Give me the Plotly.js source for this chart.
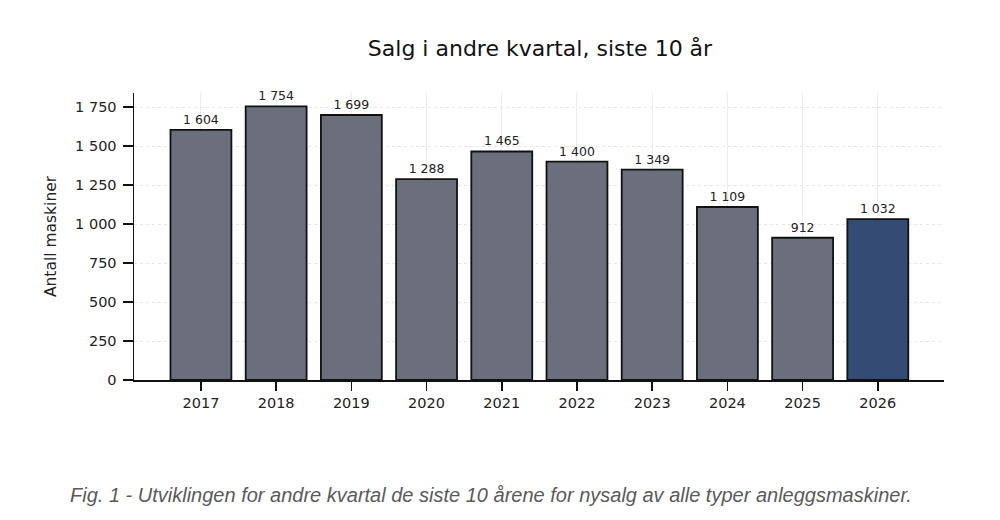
<!DOCTYPE html>
<html>
<head>
<meta charset="utf-8">
<script src="https://cdn.plot.ly/plotly-3.0.1.min.js"></script>
<style>
  body { margin: 0; background: #fff; }
  #myDiv { width: 1000px; height: 520px; }
</style>
</head>
<body>
<div id="myDiv"></div>
<script>
var years = ['2017', '2018', '2019', '2020', '2021', '2022', '2023', '2024', '2025', '2026'];
var sales = [1604, 1754, 1699, 1288, 1465, 1400, 1349, 1109, 912, 1032];
var barColors = ['#6b6f7b', '#6b6f7b', '#6b6f7b', '#6b6f7b', '#6b6f7b',
                 '#6b6f7b', '#6b6f7b', '#6b6f7b', '#6b6f7b', '#344c74'];
var yTicks = [0, 250, 500, 750, 1000, 1250, 1500, 1750];

var trace = {
  x: years,
  y: sales,
  type: 'bar',
  marker: {color: barColors, line: {color: '#111', width: 1.8}},
  text: sales,
  texttemplate: '%{y:,}',
  textposition: 'outside',
  cliponaxis: false,
  textfont: {family: 'DejaVu Sans', size: 12.5, color: '#222'},
  hoverinfo: 'none'
};

var layout = {
  width: 1000,
  height: 520,
  separators: ', ',
  paper_bgcolor: '#fff',
  plot_bgcolor: '#fff',
  font: {family: 'DejaVu Sans', color: '#222'},
  margin: {l: 134, r: 56, t: 93, b: 140},
  bargap: 0.19,
  showlegend: false,
  title: {
    text: 'Salg i andre kvartal, siste 10 år',
    font: {family: 'DejaVu Sans', size: 22, color: '#111'},
    x: 0.54, xanchor: 'center', y: 0.908, yanchor: 'middle'
  },
  xaxis: {
    type: 'category',
    range: [-0.89, 9.88],
    showline: true, linecolor: '#111', linewidth: 1.5,
    ticks: 'outside', ticklen: 9, tickwidth: 1.5, tickcolor: '#111',
    tickfont: {size: 14.5, color: '#222'},
    showgrid: true, gridcolor: '#e9eef2', gridwidth: 1,
    zeroline: false
  },
  yaxis: {
    range: [0, 1840],
    tickvals: yTicks,
    tickformat: ',',
    showline: true, linecolor: '#111', linewidth: 1.5,
    ticks: 'outside', ticklen: 10, tickwidth: 1.5, tickcolor: '#111',
    ticklabelstandoff: 3,
    tickfont: {size: 14.5, color: '#222'},
    showgrid: true, gridcolor: '#e3e7ec', griddash: 'dot', gridwidth: 1,
    zeroline: false,
    title: {text: 'Antall maskiner', font: {size: 15.5, color: '#222'}, standoff: 14}
  },
  annotations: [{
    xref: 'paper', yref: 'paper',
    x: -0.082, y: -0.4, xanchor: 'left', yanchor: 'middle',
    showarrow: false,
    text: '<i>Fig. 1 - Utviklingen for andre kvartal de siste 10 årene for nysalg av alle typer anleggsmaskiner.</i>',
    font: {family: 'Liberation Sans', size: 20, color: '#5a5a5a'}
  }]
};

Plotly.newPlot('myDiv', [trace], layout, {displayModeBar: false, staticPlot: true});
</script>
</body>
</html>
